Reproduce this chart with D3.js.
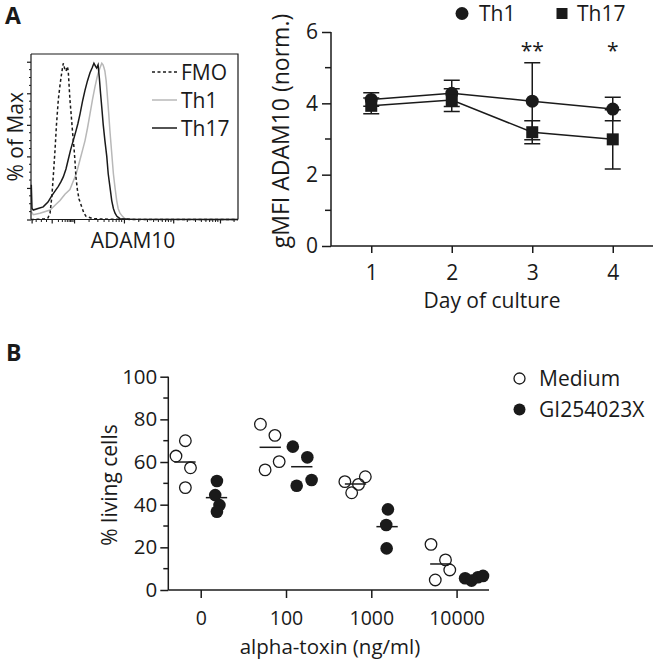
<!DOCTYPE html>
<html><head><meta charset="utf-8">
<script src="https://cdn.jsdelivr.net/npm/d3@7"></script>
<style>
body{margin:0;background:#fff}
text{font-family:"Open Sans",sans-serif;fill:#1a1a1a}
</style>
</head><body>
<svg id="c" width="656" height="661"></svg>
<script>
// ---------- Panel A (left): histogram, x in channel units (0-1000), y in % of max
const histFMO = [[0,0],[63,0.3],[82,1],[92,4],[101,15],[109,30],[116,44],[123,60],[132,76],[140,85],[145,90],[152,96],[156,99],[162,96],[169,94],[176,97],[180,94],[184,85],[188,76],[195,65],[201,55],[208,45],[213,36],[217,27],[224,19],[232,13],[245,8],[256,4],[266,2],[300,0.5],[382,0.2],[527,0],[1000,0]];
const histTh1 = [[1.4,5],[11,3],[43,4],[92,6],[116,9],[140,12],[164,16],[188,19],[200,23],[213,27],[225,32],[237,38],[249,44],[261,50],[273,58],[285,67],[297,76],[309,84],[319,90],[325,93],[333,96],[342,99],[348,98],[353,96],[357,94],[363,88],[368,80],[375,68],[382,55],[390,42],[398,29],[406,20],[414,12],[421,7],[430,4],[442,2],[454,0.5],[502,0.2],[1000,0]];
const histTh17 = [[1.4,22],[4.8,7],[11,6],[34,7],[59,8],[82,11],[100,15],[116,18],[132,21],[145,24],[156,27],[169,32],[180,38],[191,44],[204,50],[217,56],[227,61],[237,67],[249,75],[261,82],[273,88],[285,93],[295,96],[304,99],[312,97],[317,96],[324,98],[330,90],[336,80],[342,71],[349,60],[357,50],[366,40],[373,29],[382,20],[390,12],[398,7],[406,4],[415,2],[430,0.5],[478,0.2],[1000,0]];
const histSeries = ["FMO","Th1","Th17"];
const histYTicks = [0,20,40,60,80,100];
const histXMajorTicks = [3,100,208,449,687,913];

// ---------- Panel A (right): gMFI over days
const days = [1,2,3,4];
const th1Mean = [4.11,4.28,4.06,3.84];
const th1Sd   = [0.19,0.37,1.08,0.33];
const th17Mean = [3.93,4.09,3.19,2.99];
const th17Sd   = [0.22,0.32,0.32,0.83];
const sigLabels = ["","","**","*"];
const lineYTicks = [0,2,4,6];
const lineYMinor = [1,3,5];

// ---------- Panel B: % living cells
const toxinCats = ["0","100","1000","10000"];
const mediumVals = [[62.8,70,57.3,48],[77.7,72.5,60.2,56.3],[50.8,53.1,49.5,45.6],[21.4,14.1,9.4,4.7]];
const mediumJitter = [[-0.29,-0.18,-0.12,-0.18],[-0.30,-0.13,-0.08,-0.245],[-0.31,-0.07,-0.15,-0.23],[-0.30,-0.13,-0.08,-0.25]];
const giVals = [[51.1,44.5,39.8,36.7],[67.2,62.2,51.6,48.9],[37.8,30.5,19.5],[5.5,4.4,6,6.6]];
const giJitter = [[0.19,0.17,0.22,0.19],[0.08,0.25,0.30,0.125],[0.195,0.175,0.18],[0.10,0.175,0.25,0.31]];
const mediumMedian = [60,66.9,49.7,12.2];
const giMedian = [43.3,57.8,29.7,5.5];
const bYTicks = [0,20,40,60,80,100];
const bYMinor = [10,30,50,70,90];

const svg = d3.select("#c");
svg.append("rect").attr("width",656).attr("height",661).attr("fill","#fff");
const INK = "#1a1a1a";

function styleAxis(g, w){
  g.select(".domain").attr("stroke",INK).attr("stroke-width",w);
  g.selectAll(".tick line").attr("stroke",INK).attr("stroke-width",w);
  g.selectAll(".tick text").attr("fill",INK).style("font-family",'"Open Sans",sans-serif');
}

// panel letters
svg.append("text").attr("x",5).attr("y",24).attr("font-size",23).attr("font-weight","bold").text("A");
svg.append("text").attr("x",6).attr("y",361).attr("font-size",23).attr("font-weight","bold").text("B");

// ================= Histogram =================
{
  const hx = d3.scaleLinear().domain([0,1000]).range([31,238]);
  const hy = d3.scaleLinear().domain([0,104.9]).range([219.5,54]);
  const g = svg.append("g");
  g.append("path").attr("d",`M${hx(0)},${hy(104.9)}H${hx(1000)}V${hy(0)}`).attr("fill","none").attr("stroke",INK).attr("stroke-width",1.2);
  const line = d3.line().x(d=>hx(d[0])).y(d=>hy(d[1])).curve(d3.curveLinear);
  const styles = {
    FMO:{stroke:INK,dash:"3,2.5",data:histFMO},
    Th1:{stroke:"#b8b8b8",dash:null,data:histTh1},
    Th17:{stroke:INK,dash:null,data:histTh17}
  };
  ["Th1","Th17","FMO"].forEach(k=>{
    g.append("path").attr("d",line(styles[k].data)).attr("fill","none")
      .attr("stroke",styles[k].stroke).attr("stroke-width",1.5)
      .attr("stroke-dasharray",styles[k].dash);
  });
  const ya = g.append("g").attr("transform",`translate(${hx(0)},0)`)
    .call(d3.axisLeft(hy).tickValues(histYTicks).tickSize(4).tickFormat(""));
  styleAxis(ya,1.2);
  ya.select(".domain").attr("d",`M0,${hy(0)}V${hy(104.9)}`);
  const yMinor = d3.range(0,105,5).filter(v=>v%20!==0);
  g.append("g").selectAll("line").data(yMinor).join("line")
    .attr("x1",hx(0)-2).attr("x2",hx(0)).attr("y1",d=>hy(d)).attr("y2",d=>hy(d))
    .attr("stroke",INK).attr("stroke-width",1);
  const xa = g.append("g").attr("transform",`translate(0,${hy(0)})`)
    .call(d3.axisBottom(hx).tickValues(histXMajorTicks).tickSize(4).tickFormat(""));
  styleAxis(xa,1.2);
  xa.select(".domain").attr("d",`M${hx(0)},0H${hx(1000)}`);
  const minor = [25,50,75];
  for(let i=1;i<histXMajorTicks.length-1;i++){
    const a=histXMajorTicks[i], b=histXMajorTicks[i+1];
    for(let k=2;k<=9;k++) minor.push(a+(b-a)*Math.log10(k));
  }
  for(let k=2;k<=9;k++){ const a=913,b=913+(913-687); const v=a+(b-a)*Math.log10(k); if(v<1000) minor.push(v); }
  g.append("g").selectAll("line").data(minor).join("line")
    .attr("x1",d=>hx(d)).attr("x2",d=>hx(d)).attr("y1",hy(0)).attr("y2",hy(0)+2.5)
    .attr("stroke",INK).attr("stroke-width",1);
  svg.append("text").attr("transform",`translate(23,${(hy(0)+hy(104.9))/2}) rotate(-90)`)
    .attr("text-anchor","middle").attr("font-size",21).text("% of Max");
  svg.append("text").attr("x",133).attr("y",248).attr("text-anchor","middle").attr("font-size",21).text("ADAM10");
  const leg = g.append("g");
  histSeries.forEach((k,i)=>{
    const y = 72 + i*28;
    leg.append("line").attr("x1",152).attr("x2",177).attr("y1",y).attr("y2",y)
      .attr("stroke",styles[k].stroke).attr("stroke-width",1.5).attr("stroke-dasharray",styles[k].dash);
    leg.append("text").attr("x",181).attr("y",y).attr("dy","0.36em").attr("font-size",21).text(k);
  });
}

// ================= Line chart =================
{
  const x = d3.scaleLinear().domain([0.5,4.5]).range([331,653]);
  const y = d3.scaleLinear().domain([0,6]).range([246,32]);
  const g = svg.append("g");
  const ya = g.append("g").attr("transform",`translate(${x(0.5)},0)`)
    .call(d3.axisLeft(y).tickValues(lineYTicks).tickSize(9).tickPadding(4).tickFormat(d3.format("d")));
  styleAxis(ya,1.5);
  ya.select(".domain").attr("d",`M0,${y(0)}V${y(6)}`);
  ya.selectAll(".tick text").attr("font-size",21);
  g.append("g").selectAll("line").data(lineYMinor).join("line")
    .attr("x1",x(0.5)-6).attr("x2",x(0.5)).attr("y1",d=>y(d)).attr("y2",d=>y(d))
    .attr("stroke",INK).attr("stroke-width",1.5);
  const xa = g.append("g").attr("transform",`translate(0,${y(0)})`)
    .call(d3.axisBottom(x).tickValues(days).tickSize(7).tickPadding(12).tickFormat(d3.format("d")));
  styleAxis(xa,1.5);
  xa.select(".domain").attr("d",`M${x(0.5)},0H${x(4.5)}`);
  xa.selectAll(".tick text").attr("font-size",21);
  svg.append("text").attr("transform",`translate(289,131) rotate(-90)`)
    .attr("text-anchor","middle").attr("font-size",23).text("gMFI ADAM10 (norm.)");
  svg.append("text").attr("x",492).attr("y",308).attr("text-anchor","middle").attr("font-size",21).text("Day of culture");

  const series = [
    {name:"Th1",mean:th1Mean,sd:th1Sd,shape:"circle"},
    {name:"Th17",mean:th17Mean,sd:th17Sd,shape:"square"}
  ];
  const ln = d3.line().x((d,i)=>x(days[i])).y(d=>y(d));
  series.forEach(s=>{
    g.append("path").attr("d",ln(s.mean)).attr("fill","none").attr("stroke",INK).attr("stroke-width",1.5);
    s.mean.forEach((m,i)=>{
      const cx=x(days[i]), lo=y(m-s.sd[i]), hi=y(m+s.sd[i]);
      g.append("path").attr("d",`M${cx},${lo}V${hi}M${cx-8},${lo}H${cx+8}M${cx-8},${hi}H${cx+8}`)
        .attr("stroke",INK).attr("stroke-width",1.5).attr("fill","none");
    });
  });
  series.forEach(s=>{
    s.mean.forEach((m,i)=>{
      const cx=x(days[i]), cy=y(m);
      if(s.shape==="circle") g.append("circle").attr("cx",cx).attr("cy",cy).attr("r",6.5).attr("fill",INK);
      else g.append("rect").attr("x",cx-6).attr("y",cy-6).attr("width",12).attr("height",12).attr("fill",INK);
    });
  });
  g.selectAll(".sig").data(sigLabels).join("text").attr("class","sig")
    .attr("x",(d,i)=>x(days[i])).attr("y",58).attr("text-anchor","middle").attr("font-size",21).text(d=>d);
  g.append("circle").attr("cx",462).attr("cy",13.5).attr("r",6.5).attr("fill",INK);
  g.append("text").attr("x",479).attr("y",13.5).attr("dy","0.36em").attr("font-size",21).text("Th1");
  g.append("rect").attr("x",556.5).attr("y",8).attr("width",11).attr("height",11).attr("fill",INK);
  g.append("text").attr("x",577).attr("y",13.5).attr("dy","0.36em").attr("font-size",21).text("Th17");
}

// ================= Panel B =================
{
  const x = d3.scaleLinear().domain([-0.38,3.38]).range([168.3,489]);
  const y = d3.scaleLinear().domain([0,100]).range([590,376.7]);
  const g = svg.append("g");
  const ya = g.append("g").attr("transform",`translate(${x(-0.38)},0)`)
    .call(d3.axisLeft(y).tickValues(bYTicks).tickSize(8).tickPadding(3).tickFormat(d3.format("d")));
  styleAxis(ya,1.5);
  ya.select(".domain").attr("d",`M0,${y(0)}V${y(100)}`);
  ya.selectAll(".tick text").attr("font-size",20.5);
  g.append("g").selectAll("line").data(bYMinor).join("line")
    .attr("x1",x(-0.38)-5).attr("x2",x(-0.38)).attr("y1",d=>y(d)).attr("y2",d=>y(d))
    .attr("stroke",INK).attr("stroke-width",1.5);
  const xa = g.append("g").attr("transform",`translate(0,${y(0)})`)
    .call(d3.axisBottom(x).tickValues([0,1,2,3]).tickSize(8).tickPadding(13).tickFormat(i=>toxinCats[i]));
  styleAxis(xa,1.5);
  xa.select(".domain").attr("d",`M${x(-0.38)},0H${x(3.38)}`);
  xa.selectAll(".tick text").attr("font-size",19.5);
  svg.append("text").attr("transform",`translate(117,485) rotate(-90)`)
    .attr("text-anchor","middle").attr("font-size",21).text("% living cells");
  svg.append("text").attr("x",330).attr("y",654).attr("text-anchor","middle").attr("font-size",20.5).text("alpha-toxin (ng/ml)");

  const pts = [];
  mediumVals.forEach((arr,ci)=>arr.forEach((v,j)=>pts.push({ci,v,off:mediumJitter[ci][j],open:true})));
  giVals.forEach((arr,ci)=>arr.forEach((v,j)=>pts.push({ci,v,off:giJitter[ci][j],open:false})));
  mediumMedian.forEach((m,ci)=>g.append("line").attr("x1",x(ci-0.185-0.125)).attr("x2",x(ci-0.185+0.125))
    .attr("y1",y(m)).attr("y2",y(m)).attr("stroke",INK).attr("stroke-width",1.5));
  giMedian.forEach((m,ci)=>g.append("line").attr("x1",x(ci+0.185-0.125)).attr("x2",x(ci+0.185+0.125))
    .attr("y1",y(m)).attr("y2",y(m)).attr("stroke",INK).attr("stroke-width",1.5));
  g.selectAll(".pt").data(pts).join("circle").attr("class","pt")
    .attr("cx",d=>x(d.ci+d.off)).attr("cy",d=>y(d.v)).attr("r",d=>d.open?5.8:6.3)
    .attr("fill",d=>d.open?"none":INK).attr("stroke",INK).attr("stroke-width",d=>d.open?1.3:0);
  g.append("circle").attr("cx",519.5).attr("cy",378.5).attr("r",5.5).attr("fill","none").attr("stroke",INK).attr("stroke-width",1.3);
  g.append("text").attr("x",539).attr("y",378.5).attr("dy","0.36em").attr("font-size",21).text("Medium");
  g.append("circle").attr("cx",519.5).attr("cy",409.5).attr("r",6).attr("fill",INK);
  g.append("text").attr("x",539).attr("y",409.5).attr("dy","0.36em").attr("font-size",21).text("GI254023X");
}
</script>
</body></html>
